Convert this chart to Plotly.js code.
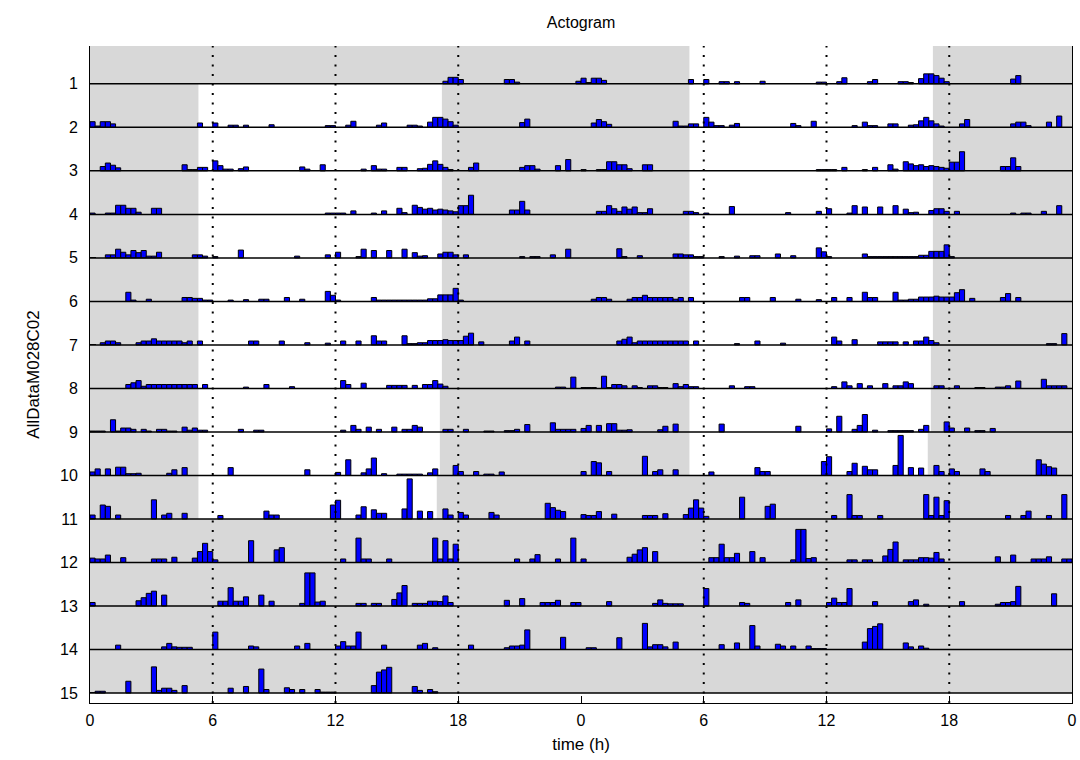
<!DOCTYPE html>
<html><head><meta charset="utf-8">
<script src="https://cdn.plot.ly/plotly-3.0.1.min.js"></script>
<style>html,body{margin:0;padding:0;background:#fff}#chart{width:1080px;height:760px}</style>
</head><body><div id="chart"></div>
<script>
const binHours = 0.25;
const rowLabels = ['1','2','3','4','5','6','7','8','9','10','11','12','13','14','15'];
const xTickVals = [0,6,12,18,24,30,36,42,48];
const xTickText = ['0','6','12','18','0','6','12','18','0'];
const dottedHours = [6,12,18,30,36,42];
// light phase per day (null = dark all day)
const lightOn  = [null,5.3,5.3,5.3,5.3,5.3,5.3,5.3,5.3,5.3,5.3,null,null,null,null,null];
const lightOff = [null,17.2,17.2,17.2,17.2,17.2,17.2,17.2,17.1,17.1,16.95,null,null,null,null,null];

// activity per day: [bin start hour, height as fraction of row]
const day1 = [[17.25,0.06],[17.5,0.15],[17.75,0.15],[18,0.1],[20.25,0.1],[20.5,0.1],[20.75,0.04],[23.75,0.06]];
const day2 = [[0,0.13],[0.25,0.03],[0.5,0.13],[0.75,0.13],[1,0.08],[5.25,0.1],[6,0.1],[6.75,0.05],[7,0.05],[7.5,0.05],[8.75,0.06],[11.5,0.04],[11.75,0.04],[12.5,0.05],[12.75,0.14],[14,0.05],[14.25,0.1],[15.5,0.05],[15.75,0.05],[16,0.03],[16.5,0.12],[16.75,0.23],[17,0.23],[17.25,0.19],[17.5,0.13],[17.75,0.05],[21,0.11],[21.25,0.19]];
const day3 = [[0.5,0.1],[0.75,0.18],[1,0.13],[1.25,0.07],[4.5,0.14],[4.75,0.03],[5,0.03],[5.25,0.08],[5.5,0.08],[6,0.23],[6.25,0.12],[6.5,0.04],[6.75,0.04],[7.25,0.05],[7.5,0.09],[10.25,0.09],[10.5,0.04],[11.25,0.14],[13.25,0.04],[13.75,0.12],[14,0.04],[14.25,0.04],[15,0.08],[15.25,0.08],[16,0.05],[16.25,0.06],[16.5,0.15],[16.75,0.23],[17,0.15],[17.25,0.08],[17.5,0.03],[18.5,0.08],[18.75,0.18],[21,0.08],[21.25,0.12],[21.5,0.12],[21.75,0.04],[22.75,0.12],[23.25,0.26]];
const day4 = [[0,0.03],[0.75,0.03],[1,0.03],[1.25,0.21],[1.5,0.21],[1.75,0.14],[2,0.14],[2.25,0.05],[3,0.14],[3.25,0.14],[11.5,0.03],[11.75,0.03],[12,0.03],[12.25,0.03],[12.75,0.08],[13.75,0.03],[14.25,0.08],[15,0.14],[15.25,0.04],[15.75,0.21],[16,0.16],[16.25,0.12],[16.5,0.14],[16.75,0.1],[17,0.12],[17.25,0.1],[17.5,0.08],[17.75,0.06],[18,0.2],[18.25,0.2],[18.5,0.44],[20.5,0.1],[20.75,0.1],[21,0.3],[21.25,0.1]];
const day5 = [[0.75,0.07],[1,0.07],[1.25,0.2],[1.5,0.13],[1.75,0.07],[2,0.17],[2.25,0.12],[2.5,0.17],[2.75,0.04],[3,0.04],[3.25,0.13],[5,0.07],[5.25,0.07],[5.5,0.04],[6,0.03],[7.25,0.18],[10,0.04],[11.5,0.07],[12,0.13],[13,0.03],[13.25,0.2],[13.75,0.17],[14.5,0.17],[15.25,0.2],[15.75,0.12],[16,0.04],[16.25,0.05],[17,0.09],[17.25,0.13],[17.5,0.13],[17.75,0.07],[18.25,0.07],[21,0.03],[21.5,0.03],[21.75,0.03],[22.5,0.07],[23.25,0.2]];
const day6 = [[1.75,0.21],[2,0.03],[2.75,0.05],[4.5,0.09],[4.75,0.09],[5,0.07],[5.25,0.07],[5.5,0.03],[5.75,0.03],[6.75,0.03],[7.5,0.04],[8.25,0.05],[8.5,0.05],[9.5,0.09],[10.25,0.05],[11.5,0.23],[11.75,0.14],[12,0.03],[13.75,0.09],[14,0.03],[14.25,0.03],[14.5,0.03],[14.75,0.03],[15,0.03],[15.25,0.03],[15.5,0.03],[15.75,0.03],[16,0.03],[16.25,0.03],[16.5,0.06],[16.75,0.06],[17,0.15],[17.25,0.15],[17.5,0.15],[17.75,0.3],[18,0.03]];
const day7 = [[0.5,0.05],[0.75,0.09],[1,0.09],[1.25,0.05],[2.25,0.05],[2.5,0.09],[2.75,0.09],[3,0.14],[3.25,0.09],[3.5,0.09],[3.75,0.09],[4,0.09],[4.25,0.09],[4.5,0.05],[4.75,0.09],[5.25,0.09],[7.75,0.09],[8,0.09],[9.25,0.09],[10.5,0.05],[11.5,0.04],[12.25,0.09],[13,0.09],[13.75,0.21],[14,0.09],[14.25,0.09],[15.25,0.21],[15.5,0.03],[15.75,0.03],[16,0.05],[16.25,0.05],[16.5,0.1],[16.75,0.1],[17,0.1],[17.25,0.12],[17.5,0.1],[17.75,0.1],[18,0.1],[18.25,0.2],[18.5,0.27],[19,0.07],[20.5,0.09],[20.75,0.18],[21.25,0.09]];
const day8 = [[1.75,0.09],[2,0.13],[2.25,0.18],[2.5,0.05],[2.75,0.09],[3,0.09],[3.25,0.09],[3.5,0.09],[3.75,0.09],[4,0.09],[4.25,0.09],[4.5,0.09],[4.75,0.09],[5,0.09],[5.5,0.09],[7.5,0.03],[8.5,0.09],[9.75,0.04],[12.25,0.18],[12.5,0.09],[13.25,0.12],[14.5,0.07],[14.75,0.07],[15,0.07],[15.25,0.07],[15.75,0.07],[16.25,0.09],[16.5,0.09],[16.75,0.18],[17,0.1],[17.25,0.05],[22.75,0.03],[23,0.03],[23.5,0.26]];
const day9 = [[0,0.02],[0.25,0.02],[0.5,0.02],[1,0.28],[1.25,0.02],[1.5,0.09],[1.75,0.09],[2,0.06],[2.5,0.06],[2.75,0.02],[3.25,0.06],[3.5,0.06],[3.75,0.02],[4,0.02],[4.5,0.11],[4.75,0.04],[5,0.09],[5.25,0.04],[5.5,0.04],[7.25,0.06],[8,0.04],[8.25,0.04],[12.25,0.04],[12.75,0.15],[13,0.06],[13.5,0.11],[14,0.06],[14.75,0.11],[15.25,0.06],[15.5,0.06],[15.75,0.15],[16,0.11],[17.25,0.06],[17.5,0.06],[18.25,0.06],[19.25,0.02],[19.5,0.02],[20.25,0.03],[20.5,0.03],[20.75,0.06],[21.25,0.17],[22.5,0.21],[22.75,0.06],[23,0.06],[23.25,0.06],[23.5,0.06]];
const day10 = [[0,0.08],[0.25,0.15],[0.75,0.15],[1.25,0.19],[1.5,0.19],[1.75,0.04],[2,0.04],[2.25,0.05],[3.75,0.05],[4,0.13],[4.5,0.18],[6.75,0.18],[10.5,0.13],[12,0.07],[12.5,0.36],[13.25,0.06],[13.5,0.15],[13.75,0.4],[14.25,0.04],[15,0.03],[15.25,0.03],[15.5,0.03],[15.75,0.03],[16,0.03],[16.5,0.06],[16.75,0.15],[17.75,0.23],[18,0.09],[18.75,0.09],[19.25,0.03],[19.5,0.03],[20,0.08]];
const day11 = [[0,0.09],[0.5,0.32],[0.75,0.29],[1.25,0.09],[3,0.44],[3.5,0.09],[3.75,0.13],[4.5,0.13],[6.25,0.08],[8.5,0.18],[8.75,0.09],[9,0.09],[11.75,0.32],[12,0.43],[13,0.09],[13.25,0.28],[13.75,0.21],[14,0.13],[14.25,0.13],[15.25,0.23],[15.5,0.92],[16,0.18],[16.5,0.17],[17.25,0.23],[17.5,0.09],[18,0.15],[18.25,0.09],[19.5,0.15],[19.75,0.09],[22.25,0.36],[22.5,0.26],[22.75,0.2],[23,0.17]];
const day12 = [[0,0.1],[0.25,0.08],[0.5,0.08],[0.75,0.17],[1.5,0.11],[3,0.08],[3.25,0.08],[3.5,0.08],[4,0.12],[5,0.1],[5.25,0.25],[5.5,0.44],[5.75,0.25],[6,0.06],[7.75,0.5],[9,0.29],[9.25,0.34],[12.25,0.08],[13,0.56],[13.25,0.08],[13.5,0.08],[14.5,0.08],[16.75,0.56],[17,0.08],[17.25,0.5],[17.5,0.08],[17.75,0.42],[20.75,0.08],[21.5,0.08],[21.75,0.18],[22.75,0.08],[23.5,0.56]];
const day13 = [[0,0.08],[2.25,0.12],[2.5,0.19],[2.75,0.29],[3,0.34],[3.5,0.25],[6.25,0.11],[6.5,0.11],[6.75,0.42],[7,0.11],[7.25,0.11],[7.5,0.21],[8.25,0.25],[8.75,0.11],[10.25,0.06],[10.5,0.76],[10.75,0.76],[11,0.09],[11.25,0.11],[13,0.06],[13.25,0.06],[13.75,0.06],[14,0.06],[14.75,0.15],[15,0.3],[15.25,0.47],[15.75,0.06],[16,0.06],[16.25,0.06],[16.5,0.11],[16.75,0.11],[17,0.1],[17.25,0.23],[17.5,0.08],[20.25,0.13],[21,0.17],[22,0.08],[22.25,0.08],[22.5,0.08],[22.75,0.13],[23.5,0.08],[23.75,0.08]];
const day14 = [[1.25,0.1],[3.5,0.06],[3.75,0.14],[4,0.06],[4.25,0.05],[4.5,0.05],[4.75,0.05],[6,0.4],[7.75,0.08],[8,0.06],[10,0.08],[10.5,0.14],[12,0.08],[12.25,0.18],[12.5,0.08],[12.75,0.08],[13,0.4],[14.25,0.1],[16,0.1],[16.25,0.14],[16.75,0.04],[18.5,0.1],[20.25,0.04],[20.5,0.08],[20.75,0.08],[21,0.1],[21.25,0.45],[23,0.28]];
const day15 = [[0.25,0.04],[0.5,0.04],[1.75,0.27],[3,0.6],[3.25,0.06],[3.5,0.11],[3.75,0.11],[4,0.06],[4.5,0.17],[6.75,0.11],[7.5,0.15],[8.25,0.55],[8.5,0.08],[9.5,0.12],[9.75,0.08],[10.25,0.08],[11,0.08],[11.25,0.02],[11.5,0.02],[11.75,0.02],[13.75,0.17],[14,0.48],[14.25,0.53],[14.5,0.59],[15.75,0.15],[16,0.06],[16.5,0.08],[16.75,0.03]];
const day16 = [];
const days = [day1,day2,day3,day4,day5,day6,day7,day8,day9,day10,day11,day12,day13,day14,day15,day16];

const FONT = 'Liberation Sans, Arial, sans-serif';
const nRows = rowLabels.length;

// double-plotted bars: row r shows day r (left) and day r+1 (right)
const bx = [], by = [], bb = [];
for (let r = 1; r <= nRows; r++) {
  [days[r - 1], days[r]].forEach((d, half) => {
    d.forEach(([h, v]) => { bx.push(half * 24 + h + binHours / 2); by.push(v); bb.push(-r); });
  });
}

const shapes = [];
// dark-phase shading
for (let r = 1; r <= nRows; r++) {
  [r - 1, r].forEach((di, half) => {
    const off = half * 24;
    const segs = lightOn[di] === null ? [[0, 24]] : [[0, lightOn[di]], [lightOff[di], 24]];
    segs.forEach(([a, b]) => shapes.push({type:'rect', xref:'x', yref:'y', x0: off + a, x1: off + b,
      y0: -r, y1: -r + 1, fillcolor:'#d8d8d8', line:{width:0}, layer:'below'}));
  });
}
// baselines
for (let r = 1; r <= nRows; r++) {
  shapes.push({type:'line', xref:'x', yref:'y', x0:0, x1:48, y0:-r, y1:-r, line:{color:'#000', width:1.5}, layer:'above'});
}
// dotted hour lines
dottedHours.forEach(h => shapes.push({type:'line', xref:'x', yref:'paper', x0:h, x1:h, y0:0, y1:1,
  line:{color:'#000', width:2, dash:'2px,7.5px'}, layer:'above'}));

const trace = {type:'bar', x:bx, y:by, base:bb, width:binHours, hoverinfo:'skip',
  marker:{color:'#0000ff', line:{color:'#000', width:1}}};

const layout = {
  width:1080, height:760,
  margin:{l:90, r:8, t:46, b:57},
  paper_bgcolor:'#fff', plot_bgcolor:'#fff',
  showlegend:false,
  font:{family:FONT, color:'#000'},
  title:{text:'Actogram', xref:'paper', x:0.5, xanchor:'center', y:0.97, yanchor:'middle',
    font:{family:FONT, size:16, color:'#000'}},
  xaxis:{range:[0,48], tickvals:xTickVals, ticktext:xTickText, ticks:'inside', ticklen:7,
    tickcolor:'#000', showline:true, linecolor:'#000', linewidth:1, showgrid:false, zeroline:false,
    tickfont:{family:FONT, size:16}, ticklabelstandoff:3,
    title:{text:'time (h)', font:{family:FONT, size:17}, standoff:9}},
  yaxis:{range:[-15.23,-0.13], tickvals:rowLabels.map((_, i) => -(i + 1)), ticktext:rowLabels,
    ticks:'inside', ticklen:6, tickcolor:'#000', showline:true, mirror:true, linecolor:'#000', linewidth:1,
    showgrid:false, zeroline:false, tickfont:{family:FONT, size:16}, ticklabelstandoff:8,
    title:{text:'AllDataM028C02', font:{family:FONT, size:17}, standoff:16}},
  shapes:shapes
};

Plotly.newPlot('chart', [trace], layout, {staticPlot:true, displayModeBar:false});
</script>
</body></html>
